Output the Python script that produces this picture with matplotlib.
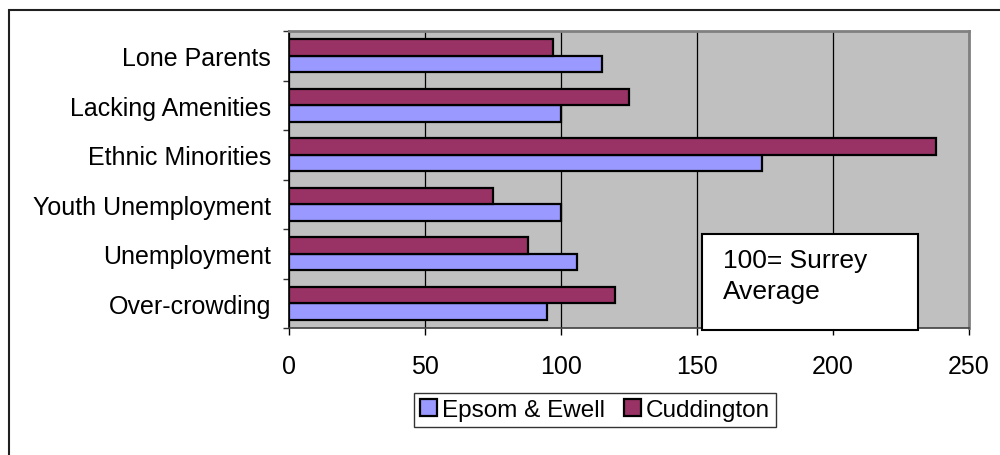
import matplotlib.pyplot as plt
import matplotlib.patches as patches
import numpy as np

plt.rcParams['font.family'] = ['Liberation Sans', 'DejaVu Sans']

# deprivation indices (100 = Surrey average), bottom to top
categories = ['Over-crowding', 'Unemployment', 'Youth Unemployment',
              'Ethnic Minorities', 'Lacking Amenities', 'Lone Parents']
epsom = [95, 106, 100, 174, 100, 115]
cuddington = [120, 88, 75, 238, 125, 97]
xticks = [0, 50, 100, 150, 200, 250]

W, H = 1000, 456
fig = plt.figure(figsize=(W / 100, H / 100), dpi=100)

# outer chart frame (left and top edges visible)
fig.patches.append(patches.Rectangle((9 / W, -0.1), 1.2, 1 - 11 / H + 0.1,
                                     transform=fig.transFigure, fill=False,
                                     edgecolor='#202020', lw=1.5))

ax = fig.add_axes([289 / W, 1 - 329 / H, (969 - 289) / W, (329 - 32) / H])
ax.set_facecolor('#C0C0C0')

y = np.arange(len(categories))
h = 1 / 3
b1 = ax.barh(y - h / 2, epsom, height=h, color='#9999FF', edgecolor='black',
             lw=1.6, label='Epsom & Ewell', zorder=3)
b2 = ax.barh(y + h / 2, cuddington, height=h, color='#993366', edgecolor='black',
             lw=1.6, label='Cuddington', zorder=3)

ax.set_xlim(0, 250)
ax.set_ylim(-0.5, len(categories) - 0.5)
ax.set_xticks(xticks)
ax.xaxis.grid(True, color='black', lw=0.9, zorder=1)
ax.set_axisbelow(True)

ax.set_yticks(y)
ax.set_yticklabels(categories)
ax.set_yticks(np.arange(len(categories) + 1) - 0.5, minor=True)
ax.tick_params(axis='y', which='major', length=0, pad=13, labelsize=18)
ax.tick_params(axis='y', which='minor', length=4.5, width=1, color='#303030')
ax.tick_params(axis='x', length=5, width=1, pad=14, labelsize=18)

for side in ['top', 'right']:
    ax.spines[side].set_color('#808080')
    ax.spines[side].set_linewidth(2)
ax.spines['left'].set_color('black')
ax.spines['bottom'].set_color('#404040')
ax.spines['left'].set_linewidth(1.2)
ax.spines['bottom'].set_linewidth(1.2)

# "100 = Surrey Average" note box
fig.patches.append(patches.Rectangle((702 / W, 1 - 331 / H), 216 / W, 96 / H,
                                     transform=fig.transFigure, facecolor='white',
                                     edgecolor='black', lw=1.5, zorder=5))
fig.text(723 / W, 1 - 249 / H, '100= Surrey\nAverage', fontsize=19,
         va='top', ha='left', linespacing=1.35, zorder=6)

leg = fig.legend(handles=[b1, b2], loc='center', ncol=2,
                 bbox_to_anchor=(595 / W, 1 - 411 / H), fontsize=17.5,
                 frameon=True, fancybox=False, edgecolor='black',
                 handlelength=0.7, handleheight=0.7, handletextpad=0.2,
                 columnspacing=0.8, borderpad=0.25, borderaxespad=0)
leg.get_frame().set_linewidth(1)

fig.savefig('out.png', dpi=100, facecolor='white')
